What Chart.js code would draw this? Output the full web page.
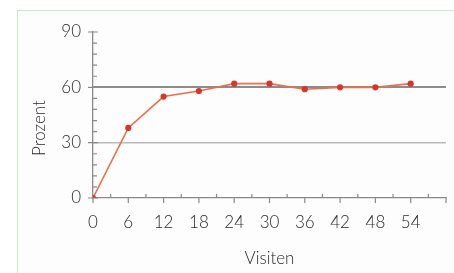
<!DOCTYPE html>
<html>
<head>
<meta charset="utf-8">
<script src="https://cdn.jsdelivr.net/npm/chart.js@4"></script>
<style>
  html, body { margin: 0; padding: 0; background: #fff; }
  #wrap { position: relative; width: 454px; height: 273px; overflow: hidden; }
  #frame { position: absolute; left: 17px; top: 10px; width: 460px; height: 300px;
           border-left: 1.5px solid #c6ead0; border-top: 1.5px solid #c6ead0; background: #fdfdfd; }
  canvas { position: absolute; left: 0; top: 0; }
</style>
</head>
<body>
<div id="wrap">
  <div id="frame"></div>
  <canvas id="c" width="454" height="273"></canvas>
</div>
<script>
// data
const visits  = [0, 6, 12, 18, 24, 30, 36, 42, 48, 54];
const percent = [0, 38, 55, 58, 62, 62, 59, 60, 60, 62];
const xMinor  = [3, 9, 15, 21, 27, 33, 39, 45, 51, 57];
const yMinor  = [6, 12, 18, 24, 36, 42, 48, 54, 66, 72, 78, 84];
const yTitle  = 'Prozent';
const xTitle  = 'Visiten';

const FONT = { family: 'Lato', size: 17, weight: '300' };
const TXT  = '#2a2a2a';
const AXIS = '#8a8a8a';

// minor/major tick marks and the y title
const ticksPlugin = {
  id: 'ticks',
  afterDraw(chart) {
    const { ctx, scales: { x, y } } = chart;
    const ax = x.getPixelForValue(0), ay = y.getPixelForValue(0);
    ctx.save();
    ctx.strokeStyle = AXIS;
    ctx.lineWidth = 1.2;
    ctx.beginPath();
    // x: multiples of 6 point down, odd multiples of 3 point up
    for (let v = 0; v <= 60; v += 6) {
      const px = x.getPixelForValue(v);
      ctx.moveTo(px, ay); ctx.lineTo(px, ay + 5);
    }
    xMinor.forEach(v => {
      const px = x.getPixelForValue(v);
      ctx.moveTo(px, ay); ctx.lineTo(px, ay - 4);
    });
    // y: labelled ticks both sides, minor ones to the right
    for (let v = 0; v <= 90; v += 30) {
      const py = y.getPixelForValue(v);
      ctx.moveTo(ax - 5, py); ctx.lineTo(ax + 5, py);
    }
    yMinor.forEach(v => {
      const py = y.getPixelForValue(v);
      ctx.moveTo(ax, py); ctx.lineTo(ax + 4, py);
    });
    ctx.stroke();

    ctx.fillStyle = TXT;
    ctx.font = `${FONT.weight} ${FONT.size}px ${FONT.family}`;
    ctx.textAlign = 'center';
    ctx.textBaseline = 'middle';
    ctx.translate(40, 128);
    ctx.rotate(-Math.PI / 2);
    ctx.fillText(yTitle, 0, 0);
    ctx.restore();
  }
};

new Chart(document.getElementById('c').getContext('2d'), {
  type: 'line',
  data: {
    datasets: [{
      data: visits.map((v, i) => ({ x: v, y: percent[i] })),
      borderColor: '#e8704c',
      borderWidth: 1.6,
      pointBackgroundColor: '#d6362b',
      pointBorderColor: '#d6362b',
      pointRadius: 2.3,
      tension: 0
    }]
  },
  options: {
    responsive: false,
    animation: false,
    layout: { padding: { left: 0, right: 8, top: 32, bottom: 0 } },
    plugins: { legend: { display: false }, tooltip: { enabled: false } },
    scales: {
      x: {
        type: 'linear', min: 0, max: 60,
        afterFit: s => { s.height = 75; s.paddingRight = 0; s.paddingLeft = 0; },
        ticks: { stepSize: 6, color: TXT, font: FONT, padding: 14,
                 callback: v => v === 60 ? '' : v, maxRotation: 0 },
        grid: { drawOnChartArea: false, drawTicks: false },
        border: { color: AXIS, width: 1.3 },
        title: { display: true, text: xTitle, color: TXT, font: FONT, padding: { top: 3 } }
      },
      y: {
        min: 0, max: 90,
        afterFit: s => { s.width = 93; },
        ticks: { stepSize: 30, color: TXT, font: FONT, padding: 12 },
        grid: {
          drawTicks: false,
          color: c => c.tick.value === 60 ? '#8c8c8c' : c.tick.value === 30 ? '#b9b9b9' : 'rgba(0,0,0,0)',
          lineWidth: c => c.tick.value === 60 ? 2 : 1.5
        },
        border: { color: AXIS, width: 1.3 }
      }
    }
  },
  plugins: [ticksPlugin]
});
</script>
</body>
</html>
